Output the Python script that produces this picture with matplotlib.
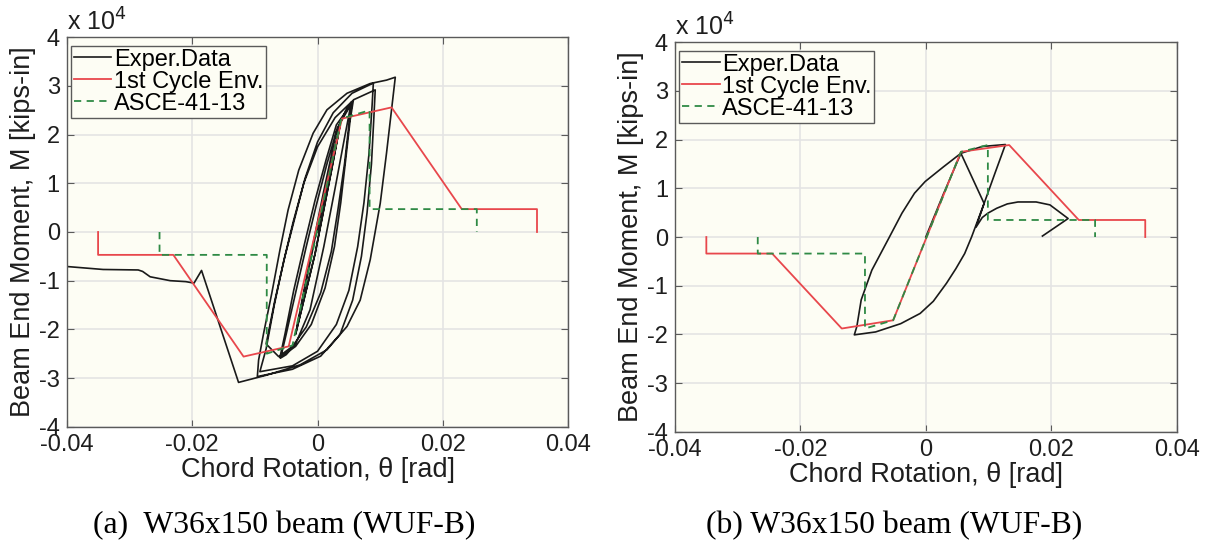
import matplotlib.pyplot as plt

plt.rcParams['font.family'] = ['Liberation Sans', 'DejaVu Sans']
plt.rcParams['axes.unicode_minus'] = False

# ---- (a) data: rotation [rad], moment [x1e4 kips-in]
exp_a_rot = [0.0, 0.0036, 0.0022, -0.0004, -0.0035, -0.0020, 0.0005, 0.0036, 0.0022, -0.0004, -0.0035,
             -0.0015, 0.0010, 0.0030, 0.0045, 0.0054, 0.0044, 0.0028, 0.0010, -0.0012, -0.0035, -0.0050, -0.0059,
             -0.0050, -0.0035, -0.0018, -0.0002, 0.0015, 0.0032, 0.0057,
             0.0052, 0.0045, 0.0037, 0.0027, 0.0012, -0.0010, -0.0035, -0.0060,
             -0.0052, -0.0038, -0.0020, -0.0004, 0.0014, 0.0030, 0.0055,
             0.0050, 0.0043, 0.0033, 0.0022, 0.0005, -0.0018, -0.0040, -0.0062,
             -0.0082, -0.0068, -0.0052, -0.0036, -0.0020, 0.0000, 0.0025, 0.0055, 0.0089,
             0.0087, 0.0082, 0.0074, 0.0064, 0.0050, 0.0030, 0.0000, -0.0040, -0.0092,
             -0.0082, -0.0069, -0.0054, -0.0039, -0.0022, 0.0000, 0.0028, 0.0058, 0.0092,
             0.0090, 0.0086, 0.0079, 0.0070, 0.0056, 0.0036, 0.0005, -0.0040, -0.0096,
             -0.0094, -0.0086, -0.0073, -0.0060, -0.0047, -0.0030, -0.0007, 0.0015, 0.0047, 0.0084, 0.0110, 0.0124,
             0.0118, 0.0110, 0.0100, 0.0084, 0.0068, 0.0047, 0.0015, -0.0028, -0.0081, -0.0126,
             -0.0185, -0.0197, -0.0210, -0.0235, -0.0267, -0.0279, -0.0286, -0.0342, -0.0399]
exp_a_mom = [0.0, 2.20, 1.25, -0.45, -2.10, -1.15, 0.45, 2.20, 1.25, -0.45, -2.10,
             -0.75, 0.85, 2.05, 2.50, 2.67, 2.00, 0.90, -0.30, -1.60, -2.30, -2.52, -2.59,
             -2.10, -1.25, -0.30, 0.55, 1.40, 2.15, 2.70,
             2.30, 1.50, 0.60, -0.30, -1.15, -1.90, -2.35, -2.58,
             -2.10, -1.20, -0.20, 0.65, 1.50, 2.20, 2.65,
             2.20, 1.40, 0.50, -0.40, -1.25, -1.95, -2.35, -2.56,
             -2.30, -1.40, -0.50, 0.30, 1.10, 1.85, 2.45, 2.85, 3.06,
             2.60, 1.60, 0.60, -0.30, -1.20, -1.90, -2.45, -2.75, -2.87,
             -2.40, -1.50, -0.60, 0.20, 1.00, 1.75, 2.35, 2.72, 2.92,
             2.40, 1.40, 0.40, -0.50, -1.40, -2.10, -2.55, -2.82, -2.97,
             -2.63, -2.08, -1.26, -0.37, 0.45, 1.27, 2.03, 2.51, 2.85, 3.05, 3.12, 3.18,
             2.51, 1.62, 0.59, -0.57, -1.40, -1.94, -2.42, -2.73, -2.94, -3.09,
             -0.79, -1.05, -1.02, -1.00, -0.92, -0.81, -0.78, -0.77, -0.71]
env_a_rot = [-0.035, -0.035, -0.023, -0.0118, -0.0046, 0.0039, 0.0118, 0.023, 0.035, 0.035]
env_a_mom = [0.0, -0.47, -0.47, -2.56, -2.35, 2.33, 2.56, 0.47, 0.47, 0.0]
asce_a_rot = [-0.0252, -0.0252, -0.0081, -0.0081, -0.0040, 0.0038, 0.0083, 0.0083, 0.0254, 0.0254]
asce_a_mom = [0.0, -0.47, -0.47, -2.50, -2.33, 2.33, 2.50, 0.47, 0.47, 0.0]

# ---- (b) data
exp_b_rot = [0.0, 0.0028, 0.0056, 0.0090, 0.0127, 0.0110, 0.0093, 0.0073, 0.0062, 0.0048, 0.0033, 0.0012,
             -0.0009, -0.0040, -0.0080, -0.0114, -0.0110, -0.0103, -0.0086, -0.0058, -0.0038, -0.0018,
             -0.0001, 0.0028, 0.0056, 0.0093, 0.0080, 0.0090, 0.0099, 0.0113, 0.0130, 0.0147, 0.0176,
             0.0198, 0.0227, 0.0186]
exp_b_mom = [0.0, 0.88, 1.72, 1.86, 1.90, 1.30, 0.69, 0.00, -0.34, -0.65, -0.95, -1.32,
             -1.57, -1.78, -1.95, -2.01, -1.84, -1.29, -0.68, 0.00, 0.49, 0.90,
             1.14, 1.44, 1.72, 0.69, 0.20, 0.40, 0.49, 0.59, 0.68, 0.72, 0.72,
             0.66, 0.38, 0.02]
env_b_rot = [-0.035, -0.035, -0.0245, -0.0134, -0.0052, 0.0056, 0.0133, 0.0244, 0.035, 0.035]
env_b_mom = [0.0, -0.34, -0.34, -1.88, -1.71, 1.75, 1.89, 0.35, 0.35, 0.0]
asce_b_rot = [-0.0268, -0.0268, -0.0097, -0.0097, -0.0052, 0.0056, 0.0099, 0.0099, 0.027, 0.027]
asce_b_mom = [0.0, -0.34, -0.34, -1.88, -1.71, 1.75, 1.89, 0.35, 0.35, 0.0]

xticks = [-0.04, -0.02, 0, 0.02, 0.04]
xtick_labels = ['-0.04', '-0.02', '0', '0.02', '0.04']
yticks = [-4, -3, -2, -1, 0, 1, 2, 3, 4]

RED = '#e8474c'
GREEN = '#2f8a45'
BG = '#fdfdf4'
TXT = '#1e1e1e'


def panel(ax, rot, mom, env_rot, env_mom, asce_rot, asce_mom):
    ax.set_facecolor(BG)
    ax.plot(rot, mom, color='#1a1a1a', lw=1.2, label='Exper.Data')
    ax.plot(env_rot, env_mom, color=RED, lw=1.3, label='1st Cycle Env.')
    ax.plot(asce_rot, asce_mom, color=GREEN, lw=1.3, ls=(0, (4, 3)), label='ASCE-41-13')
    ax.set_xlim(-0.04, 0.04)
    ax.set_ylim(-4, 4)
    ax.set_xticks(xticks)
    ax.set_xticklabels(xtick_labels)
    ax.set_yticks(yticks)
    ax.grid(True, color='#e4e4e4', lw=1.2)
    ax.set_axisbelow(True)
    for s in ax.spines.values():
        s.set_color('#5a5a5a')
        s.set_linewidth(1.0)
    ax.tick_params(direction='in', length=5, width=0.8, color='#5a5a5a', top=True, right=True,
                   labelsize=17, pad=5, labelcolor=TXT)
    ax.set_xlabel('Chord Rotation, θ [rad]', fontsize=19.5, color=TXT, labelpad=1)
    ax.set_ylabel('Beam End Moment, M [kips-in]', fontsize=19.5, color=TXT, labelpad=2)
    ax.text(0.0, 1.004, 'x 10$^{4}$', transform=ax.transAxes, ha='left', va='bottom',
            fontsize=18, color=TXT)
    leg = ax.legend(loc='upper left', bbox_to_anchor=(0.008, 0.978), fontsize=17, frameon=True,
                    fancybox=False, framealpha=1, labelspacing=0.0, borderpad=0.12,
                    handlelength=1.6, handletextpad=0.1, borderaxespad=0)
    leg.get_frame().set_edgecolor('#5a5a5a')
    leg.get_frame().set_facecolor(BG)
    leg.get_frame().set_linewidth(1.0)


fig = plt.figure(figsize=(12.09, 5.46), dpi=100)
ax1 = fig.add_axes([0.0552, 0.2185, 0.4149, 0.7132])
ax2 = fig.add_axes([0.5583, 0.2093, 0.4149, 0.7132])
panel(ax1, exp_a_rot, exp_a_mom, env_a_rot, env_a_mom, asce_a_rot, asce_a_mom)
panel(ax2, exp_b_rot, exp_b_mom, env_b_rot, env_b_mom, asce_b_rot, asce_b_mom)

fig.text(0.2347, 0.037, '(a)  W36x150 beam (WUF-B)', ha='center', va='center',
         fontsize=22.8, family='Liberation Serif')
fig.text(0.7399, 0.037, '(b) W36x150 beam (WUF-B)', ha='center', va='center',
         fontsize=22.8, family='Liberation Serif')

fig.savefig('out.png', dpi=100)
